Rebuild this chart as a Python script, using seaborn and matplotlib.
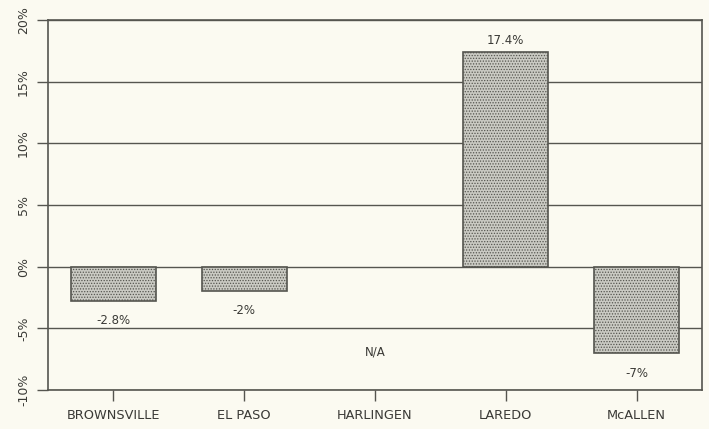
import matplotlib
matplotlib.use("Agg")
import matplotlib.pyplot as plt
import seaborn as sns
import numpy as np
import pandas as pd

cities = ["BROWNSVILLE", "EL PASO", "HARLINGEN", "LAREDO", "McALLEN"]
changes = [-2.8, -2.0, np.nan, 17.4, -7.0]
labels = ["-2.8%", "-2%", "N/A", "17.4%", "-7%"]
yticks = [-10, -5, 0, 5, 10, 15, 20]
ytick_labels = ["-10%", "-5%", "0%", "5%", "10%", "15%", "20%"]

sns.set_style("white")
plt.rcParams["font.family"] = ["DejaVu Sans"]
plt.rcParams["hatch.color"] = "#85857f"
plt.rcParams["hatch.linewidth"] = 0.6

bg = "#fbfaf1"
fig = plt.figure(figsize=(7.09, 4.29), dpi=100, facecolor=bg)
ax = fig.add_axes([48/709, 39/429, 654/709, 370/429], facecolor=bg)

df = pd.DataFrame({"city": cities, "change": changes})
sns.barplot(data=df, x="city", y="change", ax=ax, width=0.65,
            color="#cacac3", edgecolor="#55554f", linewidth=1.2,
            hatch="......", zorder=3, saturation=1)

ax.set_ylim(-10, 20)
ax.set_xlim(-0.5, 4.5)
ax.set_yticks(yticks)
ax.set_yticklabels(ytick_labels, rotation=90, va="center", fontsize=9, color="#3a3a36")
ax.yaxis.grid(True, color="#55554f", linewidth=1.0, zorder=0)
ax.set_axisbelow(True)
ax.tick_params(axis="y", left=True, direction="out", length=8, width=1.0,
               color="#55554f", pad=5)
ax.tick_params(axis="x", bottom=True, direction="out", length=8, width=1.0,
               color="#55554f", pad=6, labelsize=9.3, labelcolor="#3a3a36")
ax.set_xlabel("")
ax.set_ylabel("")
for s in ax.spines.values():
    s.set_color("#55554f")
    s.set_linewidth(1.2)

# value labels
offsets = {0: -1.6, 1: -1.55, 3: 0.95, 4: -1.7}
for i, (v, lab) in enumerate(zip(changes, labels)):
    if np.isnan(v):
        ax.text(i, -6.9, lab, ha="center", va="center", fontsize=8.5, color="#3a3a36")
    else:
        ax.text(i, v + offsets[i], lab, ha="center", va="center", fontsize=8.5,
                color="#3a3a36")

fig.savefig("out.png", dpi=100, facecolor=bg)
